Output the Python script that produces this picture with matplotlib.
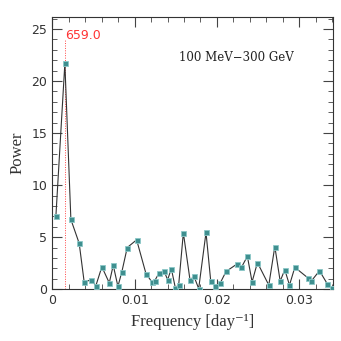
import matplotlib
matplotlib.use("Agg")
import matplotlib.pyplot as plt
from matplotlib.ticker import MultipleLocator

# frequency [1/day] and power
freq = [0.00045, 0.00154, 0.00227, 0.00328, 0.00389, 0.00466, 0.00531, 0.00603,
        0.00693, 0.00741, 0.00798, 0.00846, 0.00911, 0.01025, 0.01138, 0.01211,
        0.01244, 0.01300, 0.01357, 0.01401, 0.01446, 0.01494, 0.01535, 0.01592,
        0.01673, 0.01721, 0.01778, 0.01867, 0.01924, 0.01973, 0.02037, 0.02110,
        0.02240, 0.02297, 0.02369, 0.02426, 0.02491, 0.02629, 0.02702, 0.02767,
        0.02823, 0.02880, 0.02945, 0.03107, 0.03147, 0.03244, 0.03341, 0.03398]
power = [7.0, 21.7, 6.7, 4.4, 0.65, 0.9, 0.35, 2.15, 0.6, 2.3, 0.26, 1.68,
         4.0, 4.74, 1.5, 0.68, 0.8, 1.6, 1.77, 0.9, 1.97, 0.16, 0.39, 5.42,
         0.87, 1.23, 0.06, 5.45, 0.8, 0.32, 0.55, 1.7, 2.4, 2.1, 3.16, 0.7,
         2.55, 0.39, 4.1, 0.77, 1.87, 0.39, 2.1, 1.06, 0.8, 1.77, 0.48, 0.1]
peak_period = 659.0
band = "100 MeV\u2212300 GeV"

serif = ["Liberation Serif", "DejaVu Serif"]

fig = plt.figure(figsize=(3.41, 3.41), dpi=100)
ax = fig.add_axes([0.153, 0.152, 0.824, 0.798])

ax.plot(freq, power, color="#333333", lw=0.8, zorder=2)
ax.plot(freq, power, ls="none", marker="s", ms=3.6, mfc="#3f8f8f",
        mec="#8cc8c8", mew=0.6, zorder=3)

ax.plot([1 / peak_period, 1 / peak_period], [0, 24.0], color="#ff4444",
        ls=(0, (1, 1.5)), lw=0.7, zorder=1)
ax.text(1 / peak_period + 0.00005, 24.0, f"{peak_period:.1f}", color="#ff3333",
        fontsize=9, family="DejaVu Sans", ha="left", va="baseline")
ax.text(0.0224, 22.3, band, fontsize=8.5, family="DejaVu Serif",
        ha="center", va="center", color="#222222")

ax.set_xlim(0, 0.0341)
ax.set_ylim(0, 26.15)
ax.xaxis.set_major_locator(MultipleLocator(0.01))
ax.xaxis.set_minor_locator(MultipleLocator(0.002))
ax.yaxis.set_major_locator(MultipleLocator(5))
ax.yaxis.set_minor_locator(MultipleLocator(1))
ax.xaxis.set_major_formatter(plt.FuncFormatter(lambda v, p: "0" if v == 0 else f"{v:g}"))
ax.tick_params(which="both", direction="in", top=True, right=True,
               labelsize=9, colors="#444444", labelcolor="#333333")
ax.tick_params(which="major", length=7, width=0.8)
ax.tick_params(which="minor", length=3.5, width=0.6)
for s in ax.spines.values():
    s.set_color("#333333")
    s.set_linewidth(0.8)

ax.set_xlabel("Frequency [day\u207b\u00b9]", family=serif, fontsize=12,
              color="#333333", labelpad=5)
ax.set_ylabel("Power", family=serif, fontsize=12, color="#333333")

fig.savefig("out.png", dpi=100)
